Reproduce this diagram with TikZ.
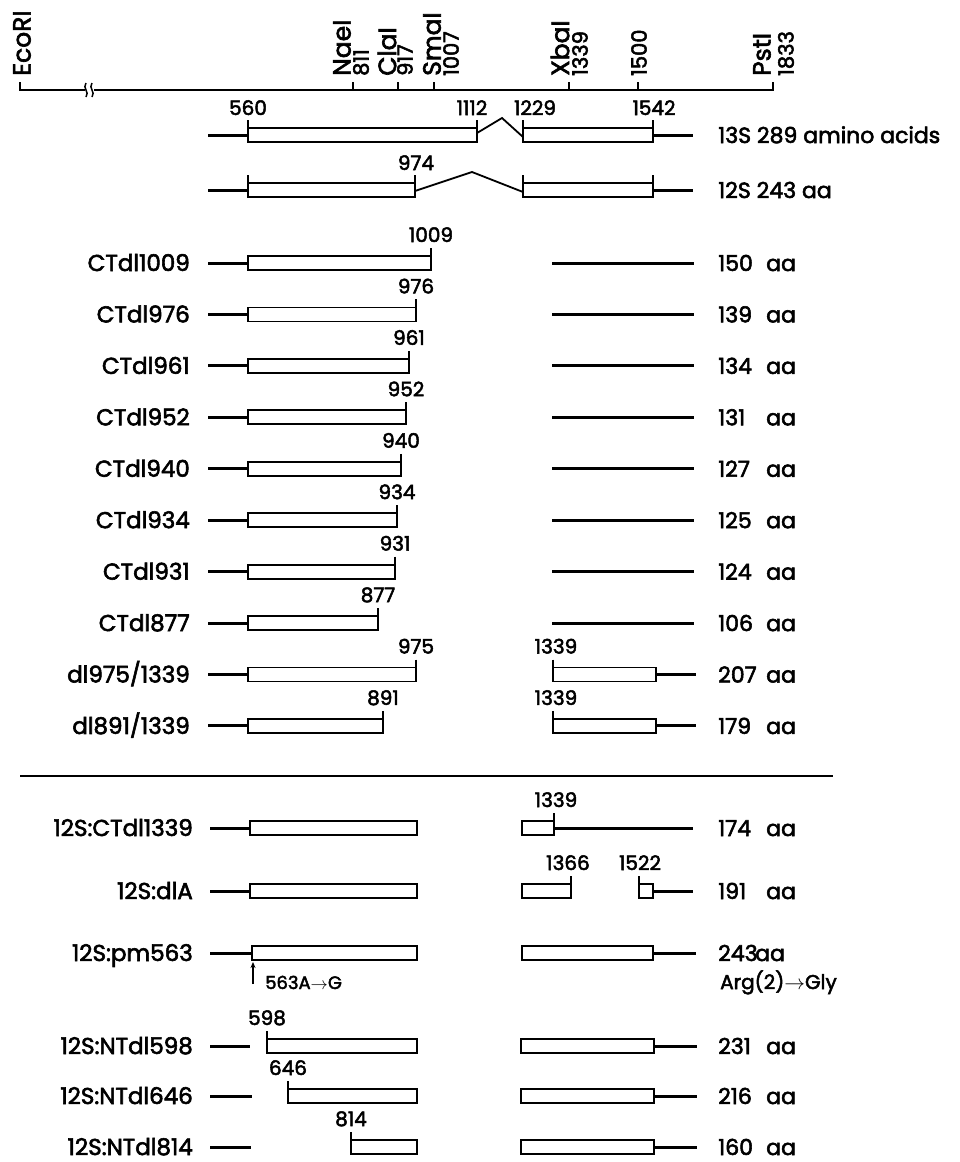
\documentclass[tikz,border=0pt]{standalone}
\usepackage{fontspec}
\setmainfont{Poppins}[FakeBold=2.5]
\usetikzlibrary{arrows.meta}
\begin{document}
\begin{tikzpicture}[x=1pt,y=-1pt,
  leadst/.style={line width=3pt},
  boxst/.style={line width=1.8pt, line join=miter},
  scalest/.style={line width=1.8pt},
  rowlab/.style={anchor=base east, inner sep=0pt, font=\fontsize{23}{26}\selectfont},
  aalab/.style={anchor=base west, inner sep=0pt, font=\fontsize{22}{26}\selectfont},
  numlab/.style={anchor=base, inner sep=0pt, font=\fontsize{20}{23}\selectfont},
  smalllab/.style={anchor=base west, inner sep=0pt, font=\fontsize{18}{21}\selectfont},
  rotname/.style={rotate=90, anchor=west, inner sep=0pt, font=\fontsize{25}{28}\selectfont},
  rotnum/.style={rotate=90, anchor=west, inner sep=0pt, font=\fontsize{21}{24}\selectfont},
]
\useasboundingbox (0,0) rectangle (959,1162);

% ---------- restriction map ----------
\draw[scalest] (20,82) -- (20,90) -- (773,90) -- (773,82);
\foreach \x in {353,398,434,569,638} \draw[scalest] (\x,90) -- (\x,82);
\fill[white] (85,86) rectangle (94,94);
\draw[line width=1.5pt] (86,83) .. controls (82,88) and (90,92) .. (86,97);
\draw[line width=1.5pt] (92,83) .. controls (88,88) and (96,92) .. (92,97);

\node[rotname] (eco) at (22,76) {EcoRI};
\node[rotname] (nae) at (342,76) {NaeI};
\node[rotnum] (n811) at (361,76) {811};
\node[rotname] (cla) at (387,76) {ClaI};
\node[rotnum] (n917) at (405,76) {917};
\node[rotname] (sma) at (432,76) {SmaI};
\node[rotnum] (n1007) at (451,76) {1007};
\node[rotname] (xba) at (560,76) {XbaI};
\node[rotnum] (n1339) at (580,76) {1339};
\node[rotnum] (n1500) at (639,76) {1500};
\node[rotname] (pst) at (762,76) {PstI};
\node[rotnum] (n1833) at (786,76) {1833};

% ---------- 13S ----------
\draw[leadst] (208,135) -- (248,135);
\draw[boxst] (248,128) rectangle (477,142);
\draw[boxst] (248,128) -- (248,120) (477,128) -- (477,120);
\draw[boxst] (477,133) -- (502,118) -- (523,137);
\draw[boxst] (523,128) rectangle (653,142);
\draw[boxst] (523,128) -- (523,120) (653,128) -- (653,120);
\draw[leadst] (653,135) -- (693,135);
\node[numlab] (l560) at (248,115) {560};
\node[numlab] (l1112) at (472,115) {1112};
\node[numlab] (l1229) at (535,115) {1229};
\node[numlab] (l1542) at (654,115) {1542};
\node[aalab] (r13s) at (718,143) {13S 289 amino acids};

% ---------- 12S ----------
\draw[leadst] (208,190) -- (248,190);
\draw[boxst] (248,183) rectangle (415,197);
\draw[boxst] (248,183) -- (248,175) (415,183) -- (415,175);
\draw[boxst] (415,191) -- (472,172) -- (523,192);
\draw[boxst] (523,183) rectangle (653,197);
\draw[boxst] (523,183) -- (523,175) (653,183) -- (653,175);
\draw[leadst] (653,190) -- (693,190);
\node[numlab] (l974) at (416,170) {974};
\node[aalab] (r12s) at (718,198) {12S 243 aa};

% ---------- C-terminal deletions ----------
\foreach \i/\e/\n/\name/\aa in {0/431/1009/CTdl1009/150, 1/416/976/CTdl976/139,
  2/409/961/CTdl961/134, 3/406/952/CTdl952/131, 4/401/940/CTdl940/127,
  5/397/934/CTdl934/125, 6/395/931/CTdl931/124, 7/378/877/CTdl877/106}{
  \pgfmathsetmacro\yy{263+51.44*\i}
  \draw[leadst] (208,\yy) -- (248,\yy);
  \draw[boxst] (\e,\yy-15) -- (\e,\yy+7) -- (248,\yy+7) -- (248,\yy-7) -- (\e,\yy-7);
  \draw[leadst] (552,\yy) -- (694,\yy);
  \node[numlab] (ct\i) at (\e,\yy-21) {\n};
  \node[rowlab] (name\i) at (190,\yy+8) {\name};
  \node[aalab] (aa\i) at (718,\yy+8) {\aa};
  \node[aalab] (aaa\i) at (766,\yy+8) {aa};
}
\foreach \i/\e/\n/\name/\aa in {8/416/975/dl975\slash 1339/207, 9/383/891/dl891\slash 1339/179}{
  \pgfmathsetmacro\yy{263+51.44*\i}
  \draw[leadst] (208,\yy) -- (248,\yy);
  \draw[boxst] (\e,\yy-15) -- (\e,\yy+7) -- (248,\yy+7) -- (248,\yy-7) -- (\e,\yy-7);
  \draw[boxst] (553,\yy-15) -- (553,\yy+7) -- (656,\yy+7) -- (656,\yy-7) -- (553,\yy-7);
  \draw[leadst] (656,\yy) -- (696,\yy);
  \node[numlab] (ct\i) at (\e,\yy-21) {\n};
  \node[numlab] (xb\i) at (556,\yy-21) {1339};
  \node[rowlab] (name\i) at (190,\yy+8) {\name};
  \node[aalab] (aa\i) at (718,\yy+8) {\aa};
  \node[aalab] (aaa\i) at (766,\yy+8) {aa};
}

% ---------- separator ----------
\draw[line width=1.8pt] (20,776) -- (833,776);

% ---------- 12S:CTdl1339 ----------
\draw[leadst] (210,828) -- (250,828);
\draw[boxst] (250,821) rectangle (417,835);
\draw[boxst] (554,813) -- (554,835) -- (522,835) -- (522,821) -- (554,821);
\draw[leadst] (554,828) -- (693,828);
\node[numlab] (b1339) at (556,807) {1339};
\node[rowlab] (nb1) at (193,836) {12S:CTdl1339};
\node[aalab] (ab1) at (718,836) {174};
\node[aalab] (aab1) at (766,836) {aa};

% ---------- 12S:dlA ----------
\draw[leadst] (210,891) -- (250,891);
\draw[boxst] (250,884) rectangle (417,898);
\draw[boxst] (571,876) -- (571,898) -- (522,898) -- (522,884) -- (571,884);
\draw[boxst] (639,876) -- (639,898) -- (653,898) -- (653,884) -- (639,884);
\draw[leadst] (653,891) -- (693,891);
\node[numlab] (b1366) at (568,870) {1366};
\node[numlab] (b1522) at (640,870) {1522};
\node[rowlab] (nb2) at (193,899) {12S:dlA};
\node[aalab] (ab2) at (718,899) {191};
\node[aalab] (aab2) at (766,899) {aa};

% ---------- 12S:pm563 ----------
\draw[leadst] (210,953) -- (252,953);
\draw[boxst] (252,946) rectangle (417,960);
\draw[boxst] (522,946) rectangle (653,960);
\draw[leadst] (653,953) -- (696,953);
\coordinate (arrbot) at (253,984);
\coordinate (arrtop) at (253,962);
\draw[line width=1.3pt, -{Stealth[length=6pt,width=5pt]}] (arrbot) -- (arrtop);
\node[smalllab] (mut) at (265,989) {563A\ensuremath{\rightarrow}G};
\node[rowlab] (nb3) at (193,961) {12S:pm563};
\node[aalab] (ab3) at (718,961) {243};
\node[aalab] (aab3) at (755,961) {aa};
\node[anchor=base west, inner sep=0pt, font=\fontsize{20}{24}\selectfont] (arg) at (720,989) {Arg(2)\ensuremath{\rightarrow}Gly};

% ---------- N-terminal deletions ----------
\foreach \i/\yy/\s/\le/\n/\name/\aa in {4/1046/267/250/598/12S:NTdl598/231,
  5/1096/288/252/646/12S:NTdl646/216, 6/1147/351/251/814/12S:NTdl814/160}{
  \draw[leadst] (210,\yy) -- (\le,\yy);
  \draw[boxst] (\s,\yy-15) -- (\s,\yy+7) -- (417,\yy+7) -- (417,\yy-7) -- (\s,\yy-7);
  \draw[boxst] (521,\yy-7) rectangle (654,\yy+7);
  \draw[leadst] (654,\yy) -- (697,\yy);
  \node[numlab] (nt\i) at (\s,\yy-21) {\n};
  \node[rowlab] (nb\i) at (193,\yy+8) {\name};
  \node[aalab] (ab\i) at (718,\yy+8) {\aa};
  \node[aalab] (aab\i) at (766,\yy+8) {aa};
}
\end{tikzpicture}
\end{document}
